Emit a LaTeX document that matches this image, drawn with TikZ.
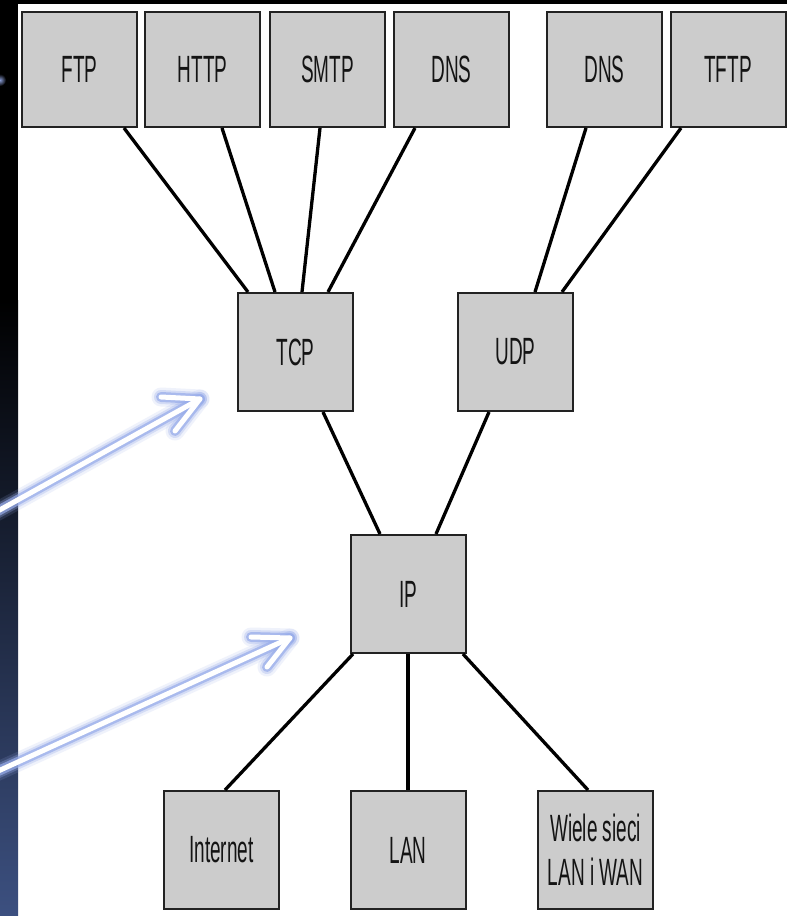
\documentclass[tikz,border=0pt]{standalone}
\usepackage{fontspec}
\newfontfamily\boxfont[FakeStretch=0.5]{Liberation Sans}
\usetikzlibrary{positioning}
\definecolor{boxfill}{HTML}{CCCCCC}
\definecolor{boxline}{HTML}{222222}
\definecolor{stripdark}{HTML}{000000}
\definecolor{stripblue}{HTML}{3C5080}
\definecolor{glowblue}{HTML}{98ACEA}
\tikzset{
  proto/.style={draw=boxline, line width=2pt, fill=boxfill,
    minimum width=115pt, minimum height=118pt, inner sep=0pt,
    align=center, text=black!92,
    font=\boxfont\fontsize{38}{44}\selectfont},
  toprow/.style={proto, minimum height=115pt},
  link/.style={line width=3.3pt, black},
  glowA/.style={line width=19pt, glowblue, opacity=0.15, line cap=round, line join=round},
  glowB/.style={line width=14pt, glowblue, opacity=0.3, line cap=round, line join=round},
  glowC/.style={line width=10pt, glowblue, opacity=0.7, line cap=round, line join=round},
  glowD/.style={line width=5pt, white, line cap=round, line join=round},
}
\begin{document}
\begin{tikzpicture}[x=1pt, y=-1pt]
  % page: white ground, black top rule, dark gradient strip on the left
  \useasboundingbox (0,0) rectangle (787,916);
  \fill[white] (0,0) rectangle (787,916);
  \fill[black] (0,0) rectangle (787,4);
  \fill[black] (0,0) rectangle (18,300);
  \shade[top color=stripdark, bottom color=stripblue] (0,300) rectangle (18,916);
  \shade[inner color=glowblue, outer color=black, opacity=0.9] (0,80) circle (6pt);

  % application layer
  \node[toprow] (ftp)  at (79.5,69.5)  {FTP};
  \node[toprow] (http) at (202.5,69.5) {HTTP};
  \node[toprow] (smtp) at (327.5,69.5) {SMTP};
  \node[toprow] (dnsa) at (451.5,69.5) {DNS};
  \node[toprow] (dnsb) at (604.5,69.5) {DNS};
  \node[toprow] (tftp) at (728,69.5)   {TFTP};

  % transport layer
  \node[proto] (tcp) at (295.5,352) {TCP};
  \node[proto] (udp) at (515.5,352) {UDP};

  % network layer
  \node[proto] (ip) at (408,594) {IP};

  % link layer
  \node[proto] (inet) at (221.5,850) {Internet};
  \node[proto] (lan)  at (408,850)   {LAN};
  \node[proto] (wan)  at (595.5,850) {Wiele sieci\\LAN i WAN};

  % connections
  \draw[link] ([xshift=44.5pt]ftp.south)  -- ([xshift=-47.5pt]tcp.north);
  \draw[link] ([xshift=19.5pt]http.south) -- ([xshift=-20.5pt]tcp.north);
  \draw[link] ([xshift=-7.5pt]smtp.south) -- ([xshift=6.5pt]tcp.north);
  \draw[link] ([xshift=-36.5pt]dnsa.south) -- ([xshift=32.5pt]tcp.north);
  \draw[link] ([xshift=-18.5pt]dnsb.south) -- ([xshift=19.5pt]udp.north);
  \draw[link] ([xshift=-47pt]tftp.south)  -- ([xshift=46.5pt]udp.north);
  \draw[link] ([xshift=27.5pt]tcp.south)  -- ([xshift=-28pt]ip.north);
  \draw[link] ([xshift=-26.5pt]udp.south) -- ([xshift=28pt]ip.north);
  \draw[link] ([xshift=-55pt]ip.south)    -- ([xshift=3.5pt]inet.north);
  \draw[link] (ip.south) -- (lan.north);
  \draw[link] ([xshift=55pt]ip.south)     -- ([xshift=-7.5pt]wan.north);

  % glowing pointer arrows coming in from the left edge
  \coordinate (a1s) at (-4,512);
  \coordinate (a1t) at (200,399);
  \coordinate (a1u) at (161,397);
  \coordinate (a1l) at (175,431);
  \coordinate (a2s) at (-4,772);
  \coordinate (a2t) at (290,638);
  \coordinate (a2u) at (251,637);
  \coordinate (a2l) at (267,667);
  \foreach \g in {glowA,glowB,glowC,glowD}{
    \draw[\g] (a1s) -- (a1t);
    \draw[\g] (a1u) -- (a1t) -- (a1l);
    \draw[\g] (a2s) -- (a2t);
    \draw[\g] (a2u) -- (a2t) -- (a2l);
  }
\end{tikzpicture}
\end{document}
